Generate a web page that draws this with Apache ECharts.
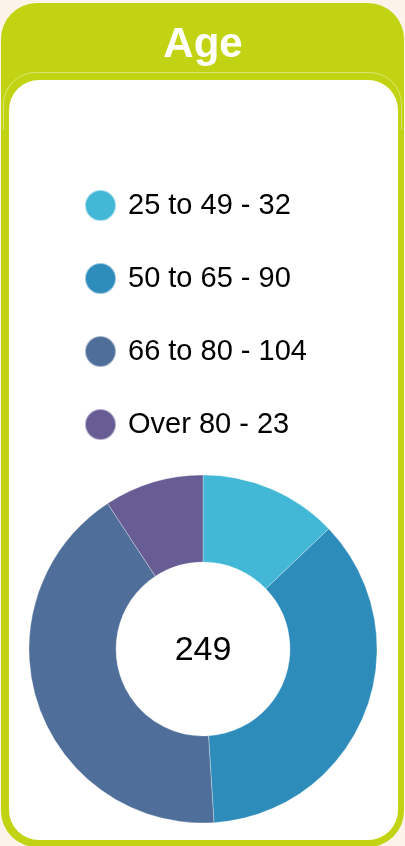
<!DOCTYPE html>
<html>
<head>
<meta charset="utf-8">
<script src="https://cdn.jsdelivr.net/npm/echarts@6/dist/echarts.min.js"></script>
<style>
html,body{margin:0;padding:0;background:#fcf4ea;}
#c{width:405px;height:846px;}
</style>
</head>
<body>
<div id="c"></div>
<script>
const title = "Age";
const categories = ["25 to 49", "50 to 65", "66 to 80", "Over 80"];
const values = [32, 90, 104, 23];
const colors = ["#42b8d6", "#2e8cbb", "#4f6e9a", "#685c95"];
const total = values.reduce((a, b) => a + b, 0);

const thin = {fill: 'none', stroke: 'rgba(255,255,255,0.4)', lineWidth: 1};
const chart = echarts.init(document.getElementById('c'), null, {renderer: 'canvas'});
chart.setOption({
  backgroundColor: 'transparent',
  animation: false,
  graphic: [
    {type: 'rect', z: -10, shape: {x: 1, y: 3, width: 403, height: 844, r: 36}, style: {fill: '#c2d313'}},
    {type: 'arc', z: -9, shape: {cx: 35.5, cy: 104.5, r: 32, startAngle: Math.PI, endAngle: Math.PI * 1.5, clockwise: true}, style: thin},
    {type: 'arc', z: -9, shape: {cx: 369.5, cy: 104.5, r: 32, startAngle: Math.PI * 1.5, endAngle: Math.PI * 2, clockwise: true}, style: thin},
    {type: 'line', z: -9, shape: {x1: 35.5, y1: 72.5, x2: 369.5, y2: 72.5}, style: thin},
    {type: 'line', z: -9, shape: {x1: 3.5, y1: 104.5, x2: 3.5, y2: 130}, style: thin},
    {type: 'line', z: -9, shape: {x1: 401.5, y1: 104.5, x2: 401.5, y2: 130}, style: thin},
    {type: 'rect', z: -8, shape: {x: 9, y: 80, width: 389, height: 760, r: 30}, style: {fill: '#ffffff'}},
    {type: 'text', z: 5, style: {x: 203, y: 45, text: title, fill: '#ffffff', textAlign: 'center', textVerticalAlign: 'middle', font: 'bold 42px "Liberation Sans", Arial, sans-serif'}},
    {type: 'text', z: 5, style: {x: 203, y: 651, text: String(total), fill: '#000000', textAlign: 'center', textVerticalAlign: 'middle', font: '34px "Liberation Sans", Arial, sans-serif'}}
  ],
  color: colors,
  legend: {
    orient: 'vertical',
    left: 84,
    top: 189,
    padding: 0,
    icon: 'circle',
    itemWidth: 31,
    itemHeight: 31,
    itemGap: 40,
    selectedMode: false,
    textStyle: {fontSize: 29, lineHeight: 31, color: '#000', fontFamily: '"Liberation Sans", Arial, sans-serif', padding: [0, 0, 0, 7]},
    formatter: function (name) {
      const i = categories.indexOf(name);
      return name + ' - ' + values[i];
    },
    data: categories
  },
  series: [{
    type: 'pie',
    center: [203, 649],
    radius: [87, 174],
    startAngle: 90,
    clockwise: true,
    label: {show: false},
    labelLine: {show: false},
    emphasis: {disabled: true},
    itemStyle: {borderColor: 'rgba(255,255,255,0.5)', borderWidth: 0.6},
    data: categories.map((c, i) => ({name: c, value: values[i]}))
  }]
});
</script>
</body>
</html>
